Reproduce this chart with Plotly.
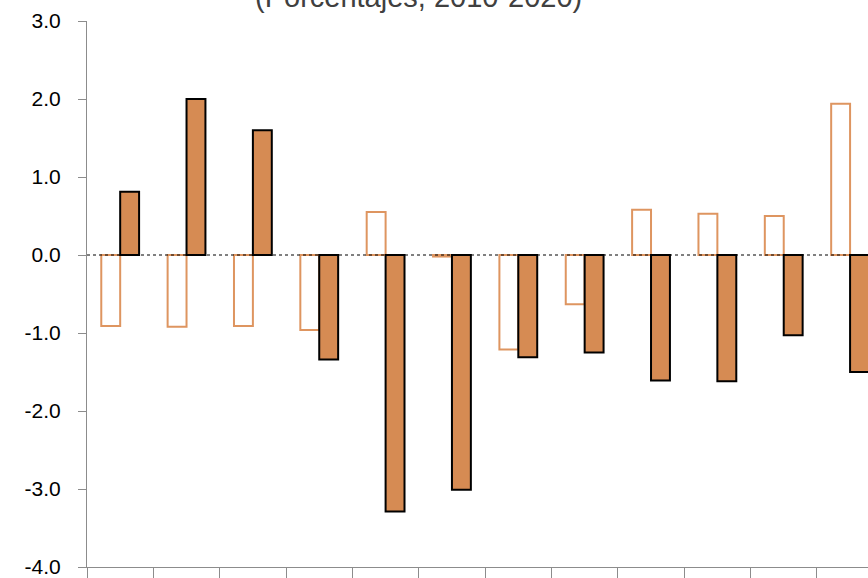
import plotly.graph_objects as go

categories = ["C1", "C2", "C3", "C4", "C5", "C6", "C7", "C8", "C9", "C10", "C11", "C12"]
serie_a = [-0.91, -0.92, -0.91, -0.96, 0.55, -0.02, -1.21, -0.63, 0.58, 0.53, 0.50, 1.94]
serie_b = [0.81, 2.00, 1.60, -1.34, -3.29, -3.01, -1.31, -1.25, -1.61, -1.62, -1.03, -1.50]
y_ticks = [3, 2, 1, 0, -1, -2, -3, -4]
y_tick_text = ["3.0", "2.0", "1.0", "0.0", "-1.0", "-2.0", "-3.0", "-4.0"]
title_text = "(Porcentajes, 2010-2020)"

ORANGE = "#D68B53"

fig = go.Figure()
fig.add_trace(go.Bar(
    x=categories, y=serie_a,
    marker=dict(color="white", line=dict(color="#DE9560", width=2)),
    showlegend=False,
))
fig.add_trace(go.Bar(
    x=categories, y=serie_b,
    marker=dict(color=ORANGE, line=dict(color="black", width=2)),
    showlegend=False,
))

fig.add_shape(type="line", xref="paper", yref="y", x0=0, x1=1, y0=0, y1=0,
              line=dict(color="black", width=1, dash="dot"), layer="above")

fig.add_annotation(
    text=title_text, xref="paper", yref="paper", x=0.424, y=1.0,
    xanchor="center", yanchor="bottom", yshift=6, showarrow=False,
    font=dict(family="Liberation Sans", size=29, color="#404040"),
)

fig.update_layout(
    width=868, height=578,
    margin=dict(l=87, r=0, t=21, b=11, autoexpand=False),
    plot_bgcolor="white", paper_bgcolor="white",
    barmode="group", bargap=0.43, bargroupgap=0,
    font=dict(family="Liberation Sans", size=21, color="black"),
    xaxis=dict(
        range=[-0.5, 11.27], showticklabels=False, showgrid=False,
        showline=True, linecolor="#8C8C8C", linewidth=1,
        ticks="outside", tickson="boundaries", ticklen=11, tickcolor="#8C8C8C",
        zeroline=False, automargin=False,
    ),
    yaxis=dict(
        range=[-4, 3], tickvals=y_ticks, ticktext=y_tick_text,
        showgrid=False, zeroline=False,
        showline=True, linecolor="#8C8C8C", linewidth=1,
        ticks="outside", ticklen=8, tickcolor="#8C8C8C",
        ticklabelstandoff=13, automargin=False, ticklabeloverflow="allow",
    ),
)

fig.write_html(
    "out.html",
    config={"displayModeBar": False},
    post_script="document.body.style.margin='0';document.body.style.overflow='hidden';",
)
